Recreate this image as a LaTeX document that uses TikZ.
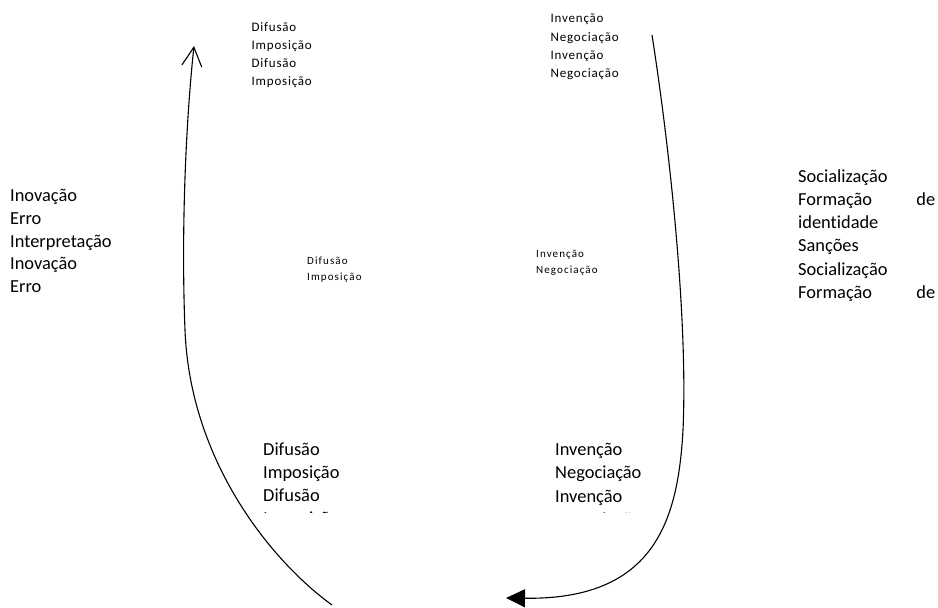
\documentclass[tikz,border=0pt]{standalone}
\usepackage{fontspec}
\setmainfont{Carlito}[Ligatures=NoCommon]
\usetikzlibrary{arrows.meta}

% multi-line nodes are placed by the baseline of their last line
\tikzset{
  bigtxt/.style={anchor=base west, inner sep=0pt, align=left,
    font=\fontsize{18.4}{23.3}\selectfont},
  toptxt/.style={anchor=base west, inner sep=0pt, align=left,
    font=\fontsize{13}{18.3}\selectfont\addfontfeature{LetterSpace=6}},
  midtxt/.style={anchor=base west, inner sep=0pt, align=left,
    font=\fontsize{11}{16}\selectfont\addfontfeature{LetterSpace=10}},
  cycle/.style={line width=1.1pt, black},
}

\begin{document}
\begin{tikzpicture}[x=1pt, y=-1pt]
  \useasboundingbox (0,0) rectangle (938,608);

  % labels on the outer sides
  \node[bigtxt, font=\fontsize{18.4}{22.8}\selectfont] (left) at (10,292.7)
    {Inovação\\Erro\\Interpretação\\Inovação\\Erro};
  \node[bigtxt] (right) at (798,298.5)
    {Socialização\\\makebox[137pt][s]{Formação\hfill de}\\identidade\\Sanções\\Socialização\\\makebox[137pt][s]{Formação\hfill de}};

  % small labels near the top
  \node[toptxt] (topl) at (251.5,85.9)
    {Difusão\\Imposição\\Difusão\\Imposição};
  \node[toptxt] (topr) at (550.5,77.6)
    {Invenção\\Negociação\\Invenção\\Negociação};

  % labels in the middle
  \node[midtxt] (midl) at (307,280) {Difusão\\Imposição};
  \node[midtxt] (midr) at (536,273.7) {Invenção\\Negociação};

  % labels near the bottom, last line cut off by the text frame
  \begin{scope}
    \clip (240,430) rectangle (460,512);
    \node[bigtxt] (botl) at (263,524.9)
      {Difusão\\Imposição\\Difusão\\Imposição};
  \end{scope}
  \begin{scope}
    \clip (540,430) rectangle (720,512);
    \node[bigtxt] (botr) at (555,525.5)
      {Invenção\\Negociação\\Invenção\\Negociação};
  \end{scope}

  % left arc, rising to an open arrow head
  \coordinate (la) at (332,605);
  \coordinate (lm) at (185,330);
  \coordinate (lb) at (194,46);
  \draw[cycle, -{Straight Barb[length=19pt,width=20pt]}]
    (la) .. controls (270,560) and (190,460) .. (lm)
         .. controls (181,230) and (186,120) .. (lb);

  % right arc, falling to a filled arrow head
  \coordinate (ra) at (652,35);
  \coordinate (rm) at (683,430);
  \coordinate (rb) at (506,598);
  \draw[cycle, -{Triangle[length=19pt,width=18pt]}]
    (ra) .. controls (670,150) and (688,320) .. (rm)
         .. controls (678,520) and (655,600) .. (rb);
\end{tikzpicture}
\end{document}
